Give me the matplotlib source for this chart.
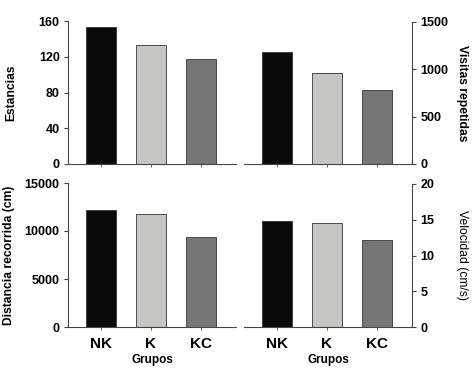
import matplotlib
matplotlib.use("Agg")
import matplotlib.pyplot as plt

grupos = ["NK", "K", "KC"]
colores = ["#0a0a0a", "#c6c6c2", "#767676"]

estancias = [153.5, 132.8, 117.0]
visitas = [1186, 958, 778]
distancia = [12150, 11750, 9350]
velocidad = [14.8, 14.55, 12.15]

plt.rcParams['font.family'] = ['Liberation Sans', 'DejaVu Sans']

W, H = 472, 370
fig = plt.figure(figsize=(W / 100, H / 100), dpi=100)


def caja(x0, y0, x1, y1):
    return [x0 / W, 1 - y1 / H, (x1 - x0) / W, (y1 - y0) / H]


paneles = [
    (caja(68, 21, 236, 164), estancias, 160, [0, 40, 80, 120, 160], "Estancias", "left", "bold", -0.30),
    (caja(244, 22, 412, 164), visitas, 1500, [0, 500, 1000, 1500], "Visitas repetidas", "right", "bold", 1.30),
    (caja(68, 183, 236, 327), distancia, 15000, [0, 5000, 10000, 15000], "Distancia recorrida (cm)", "left", "bold", -0.315),
    (caja(244, 184, 412, 327), velocidad, 20, [0, 5, 10, 15, 20], "Velocidad (cm/s)", "right", "normal", 1.30),
]

x = list(range(len(grupos)))
for i, (rect, datos, ymax, yt, etiqueta, lado, peso, lx) in enumerate(paneles):
    ax = fig.add_axes(rect)
    ax.bar(x, datos, width=0.6, color=colores, edgecolor="#333333", linewidth=0.6)
    ax.set_xlim(-0.66, 2.7)
    ax.set_ylim(0, ymax)
    ax.set_yticks(yt)
    ax.set_yticklabels([str(v) for v in yt], fontsize=9, fontweight="bold")
    for s in ["top", "left", "right"]:
        ax.spines[s].set_visible(False)
    ax.spines[lado].set_visible(True)
    ax.spines[lado].set_color("#444444")
    ax.spines["bottom"].set_color("#444444")
    ax.spines[lado].set_linewidth(0.8)
    ax.spines["bottom"].set_linewidth(0.8)
    if lado == "right":
        ax.yaxis.tick_right()
        ax.yaxis.set_label_position("right")
    ax.tick_params(axis="y", length=3, width=0.8, color="#444444", pad=3)
    ax.tick_params(axis="x", length=2, width=0.6, color="#444444")
    ax.set_xticks(x)
    ax.set_ylabel(etiqueta, fontsize=8.7, fontweight=peso,
                  rotation=90 if lado == "left" else 270)
    ax.yaxis.set_label_coords(lx, 0.5)
    if lado == "right":
        ax.yaxis.label.set_va("center")
    if i >= 2:
        ax.set_xticklabels(grupos, fontsize=11, fontweight="bold")
        ax.tick_params(axis="x", pad=5)
        ax.set_xlabel("Grupos", fontsize=8.5, fontweight="bold", labelpad=2)
    else:
        ax.set_xticklabels([])

fig.savefig("out.png", dpi=100)
